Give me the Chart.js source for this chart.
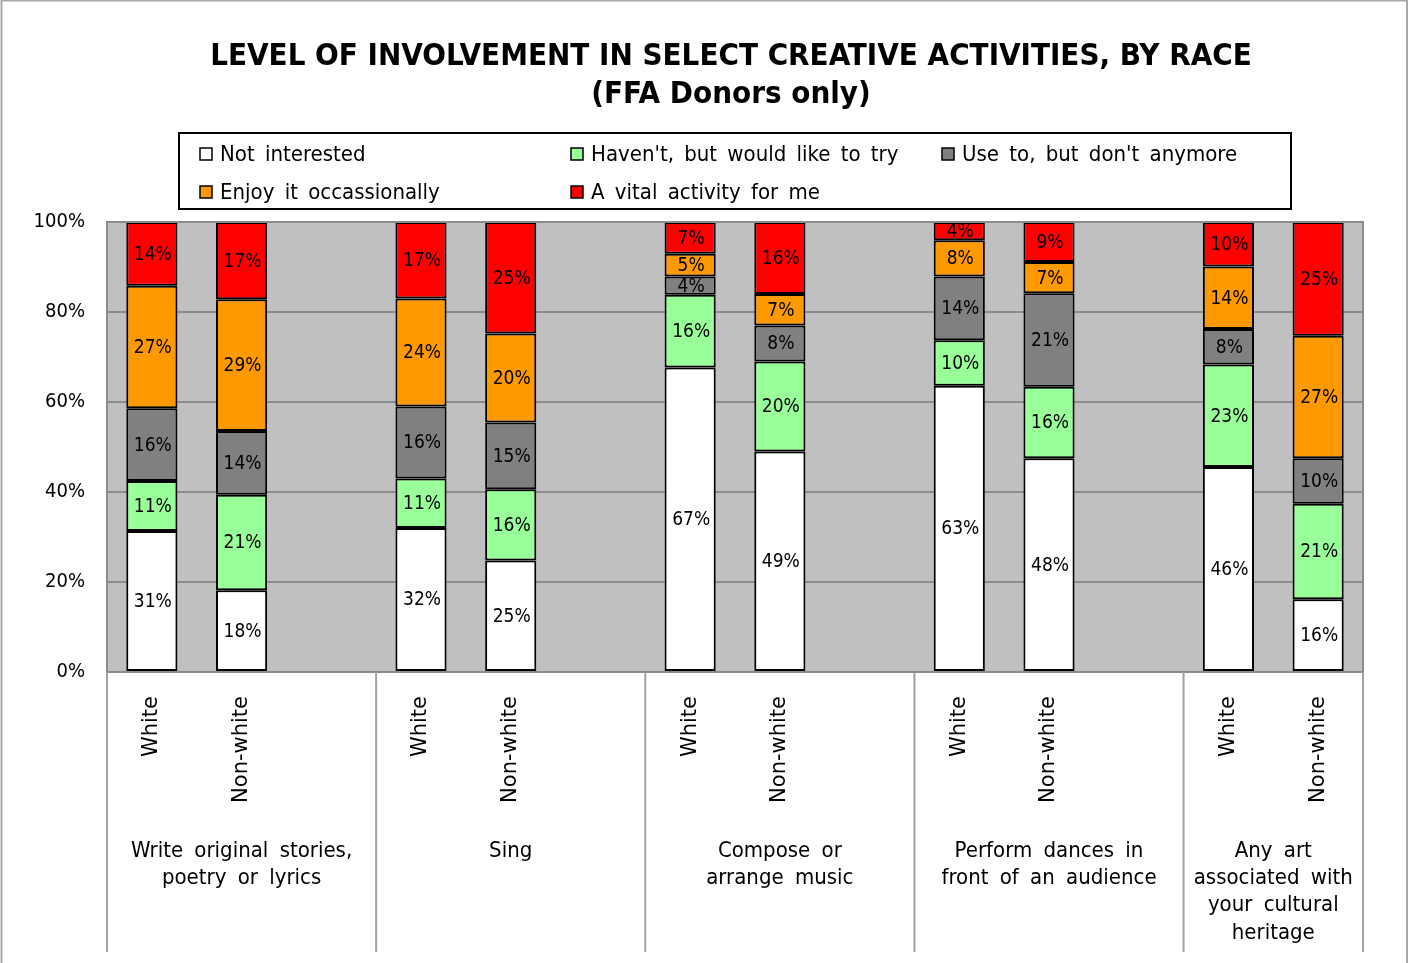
<!DOCTYPE html>
<html>
<head>
<meta charset="utf-8">
<title>Level of involvement in select creative activities, by race</title>
<script src="https://cdn.jsdelivr.net/npm/chart.js@4.4.1/dist/chart.umd.min.js"></script>
<style>
  html, body { margin: 0; padding: 0; background: #ffffff; }
  #wrap { position: relative; width: 1408px; height: 963px; }
</style>
</head>
<body>
<div id="wrap"><canvas id="chart"></canvas></div>
<script>
// Activities (group labels, already broken into lines) and the two race groups per activity
const activities = [
  ['Write original stories,', 'poetry or lyrics'],
  ['Sing'],
  ['Compose or', 'arrange music'],
  ['Perform dances in', 'front of an audience'],
  ['Any art', 'associated with', 'your cultural', 'heritage']
];
const races = ['White', 'Non-white'];

// Response categories, bottom to top of each stack
const responses = [
  'Not interested',
  "Haven't, but would like to try",
  "Use to, but don't anymore",
  'Enjoy it occassionally',
  'A vital activity for me'
];
const responseColors = ['#ffffff', '#99ff99', '#808080', '#ff9900', '#ff0000'];

// Percent values, ordered White / Non-white for each activity
const notInterested     = [31, 18, 32, 25, 67, 49, 63, 48, 46, 16];
const wouldLikeToTry    = [11, 21, 11, 16, 16, 20, 10, 16, 23, 21];
const usedToNotAnymore  = [16, 14, 16, 15,  4,  8, 14, 21,  8, 10];
const enjoyOccasionally = [27, 29, 24, 20,  5,  7,  8,  7, 14, 27];
const vitalActivity     = [14, 17, 17, 25,  7, 16,  4,  9, 10, 25];

const yTicks = [0, 20, 40, 60, 80, 100];

const seriesValues = [notInterested, wouldLikeToTry, usedToNotAnymore, enjoyOccasionally, vitalActivity];

// Category slots: White, Non-white, then an empty spacer between activities
const slotLabels = [];
const slotSource = [];   // index into the value arrays, or null for spacers
const slotGroup = [];
activities.forEach((a, g) => {
  races.forEach((r, k) => {
    slotLabels.push(r);
    slotSource.push(g * races.length + k);
    slotGroup.push(g);
  });
  if (g < activities.length - 1) {
    slotLabels.push('');
    slotSource.push(null);
    slotGroup.push(g);
  }
});

// Each bar is shown as a 100% stack
const barTotals = notInterested.map((_, i) => seriesValues.reduce((s, arr) => s + arr[i], 0));

const datasets = responses.map((name, s) => ({
  label: name,
  rawValues: slotSource.map(idx => idx === null ? null : seriesValues[s][idx]),
  data: slotSource.map(idx => idx === null ? null : seriesValues[s][idx] / barTotals[idx] * 100),
  backgroundColor: responseColors[s],
  borderColor: '#000000',
  borderWidth: 2,
  borderSkipped: false,
  inflateAmount: 0,
  barPercentage: 0.57,
  categoryPercentage: 1.0
}));

const condensed = "'DejaVu Sans Condensed', 'DejaVu Sans', sans-serif";
const regular = "'DejaVu Sans', sans-serif";

// Text with wider gaps between words
function spacedText(ctx, text, x, y, gap, align) {
  const words = text.split(' ');
  const sp = ctx.measureText(' ').width + gap;
  const widths = words.map(w => ctx.measureText(w).width);
  const total = widths.reduce((a, b) => a + b, 0) + sp * (words.length - 1);
  let cx = align === 'center' ? x - total / 2 : x;
  const saved = ctx.textAlign;
  ctx.textAlign = 'left';
  words.forEach((w, i) => {
    ctx.fillText(w, cx, y);
    cx += widths[i] + sp;
  });
  ctx.textAlign = saved;
}

// Grey plot background, plot frame and outer frame
const framePlugin = {
  id: 'frame',
  beforeDraw(chart) {
    const { ctx, chartArea: a } = chart;
    ctx.save();
    ctx.fillStyle = '#c0c0c0';
    ctx.fillRect(a.left, a.top, a.right - a.left, a.bottom - a.top);
    ctx.restore();
  },
  afterDraw(chart) {
    const { ctx, chartArea: a, width } = chart;
    ctx.save();
    ctx.strokeStyle = '#8c8c8c';
    ctx.lineWidth = 2;
    ctx.strokeRect(a.left, a.top, a.right - a.left, a.bottom - a.top);
    // outer border
    ctx.strokeStyle = '#a8a8a8';
    ctx.lineWidth = 2;
    ctx.beginPath();
    ctx.moveTo(1.5, 963);
    ctx.lineTo(1.5, 0.5);
    ctx.lineTo(width - 1, 0.5);
    ctx.lineTo(width - 1, 963);
    ctx.stroke();
    ctx.restore();
  }
};

// Title, drawn centred over the plot
const titlePlugin = {
  id: 'titleLines',
  afterDraw(chart) {
    const { ctx } = chart;
    ctx.save();
    ctx.fillStyle = '#000000';
    ctx.textAlign = 'center';
    ctx.textBaseline = 'middle';
    ctx.font = "bold 31px " + condensed;
    ctx.fillText('LEVEL OF INVOLVEMENT IN SELECT CREATIVE ACTIVITIES, BY RACE', 731, 57);
    ctx.fillText('(FFA Donors only)', 731, 95);
    ctx.restore();
  }
};

// Boxed legend with three columns
const legendPlugin = {
  id: 'boxLegend',
  afterDraw(chart) {
    const { ctx } = chart;
    const box = { x: 179, y: 133, w: 1112, h: 76 };
    const colX = [200, 571, 942];
    const rowY = [154, 192];
    ctx.save();
    ctx.fillStyle = '#ffffff';
    ctx.fillRect(box.x, box.y, box.w, box.h);
    ctx.strokeStyle = '#000000';
    ctx.lineWidth = 2;
    ctx.strokeRect(box.x, box.y, box.w, box.h);
    ctx.font = "22px " + condensed;
    ctx.textBaseline = 'middle';
    chart.data.datasets.forEach((ds, i) => {
      const x = colX[i % 3];
      const y = rowY[Math.floor(i / 3)];
      ctx.fillStyle = ds.backgroundColor;
      ctx.fillRect(x, y - 6, 12, 12);
      ctx.strokeStyle = '#000000';
      ctx.lineWidth = 1.5;
      ctx.strokeRect(x, y - 6, 12, 12);
      ctx.fillStyle = '#000000';
      spacedText(ctx, ds.label, x + 20, y + 1, 4, 'left');
    });
    ctx.restore();
  }
};

// Segment value labels
const valueLabelPlugin = {
  id: 'valueLabels',
  afterDatasetsDraw(chart) {
    const { ctx } = chart;
    ctx.save();
    ctx.font = "19px " + condensed;
    ctx.fillStyle = '#000000';
    ctx.textAlign = 'center';
    ctx.textBaseline = 'middle';
    chart.data.datasets.forEach((ds, d) => {
      const meta = chart.getDatasetMeta(d);
      meta.data.forEach((bar, i) => {
        const v = ds.rawValues[i];
        if (v === null) return;
        const { x, y, base } = bar.getProps(['x', 'y', 'base'], true);
        ctx.fillText(v + '%', x + 1, (y + base) / 2 + 1);
      });
    });
    ctx.restore();
  }
};

// Activity names under the race labels, with group separators
const groupAxisPlugin = {
  id: 'groupAxis',
  afterDraw(chart) {
    const { ctx, chartArea: a } = chart;
    const xs = chart.scales.x;
    const slotW = xs.getPixelForValue(1) - xs.getPixelForValue(0);
    const bounds = [];
    activities.forEach((_, g) => {
      const first = slotGroup.indexOf(g);
      bounds.push(xs.getPixelForValue(first) - slotW / 2);
    });
    bounds.push(a.right);
    ctx.save();
    ctx.strokeStyle = '#a0a0a0';
    ctx.lineWidth = 2;
    bounds.forEach(bx => {
      ctx.beginPath();
      ctx.moveTo(bx, a.bottom);
      ctx.lineTo(bx, 952);
      ctx.stroke();
    });
    ctx.fillStyle = '#000000';
    ctx.font = "22px " + condensed;
    ctx.textBaseline = 'middle';
    activities.forEach((lines, g) => {
      const cx = (bounds[g] + bounds[g + 1]) / 2;
      lines.forEach((ln, k) => spacedText(ctx, ln, cx, 851 + k * 27.3, 5, 'center'));
    });
    ctx.restore();
  }
};

new Chart(document.getElementById('chart'), {
  type: 'bar',
  data: { labels: slotLabels, datasets },
  plugins: [framePlugin, valueLabelPlugin, groupAxisPlugin, legendPlugin, titlePlugin],
  options: {
    responsive: true,
    maintainAspectRatio: false,
    animation: false,
    events: [],
    layout: { padding: { top: 222, right: 45, left: 0, bottom: 0 } },
    plugins: {
      legend: { display: false },
      title: { display: false },
      tooltip: { enabled: false }
    },
    scales: {
      x: {
        stacked: true,
        grid: { display: false, drawTicks: false },
        border: { display: true, color: '#8c8c8c', width: 2 },
        ticks: {
          autoSkip: false,
          minRotation: 90,
          maxRotation: 90,
          padding: 24,
          color: '#000000',
          font: { family: regular, size: 21 }
        },
        afterFit(scale) { scale.height = 291; }
      },
      y: {
        stacked: true,
        min: 0,
        max: 100,
        afterBuildTicks(scale) { scale.ticks = yTicks.map(v => ({ value: v })); },
        grid: { color: '#8c8c8c', lineWidth: 2, drawTicks: false },
        border: { display: true, color: '#8c8c8c', width: 2 },
        ticks: {
          padding: 22,
          color: '#000000',
          font: { family: condensed, size: 20 },
          callback: v => v + '%'
        },
        afterFit(scale) { scale.width = 107; }
      }
    }
  }
});
</script>
</body>
</html>
